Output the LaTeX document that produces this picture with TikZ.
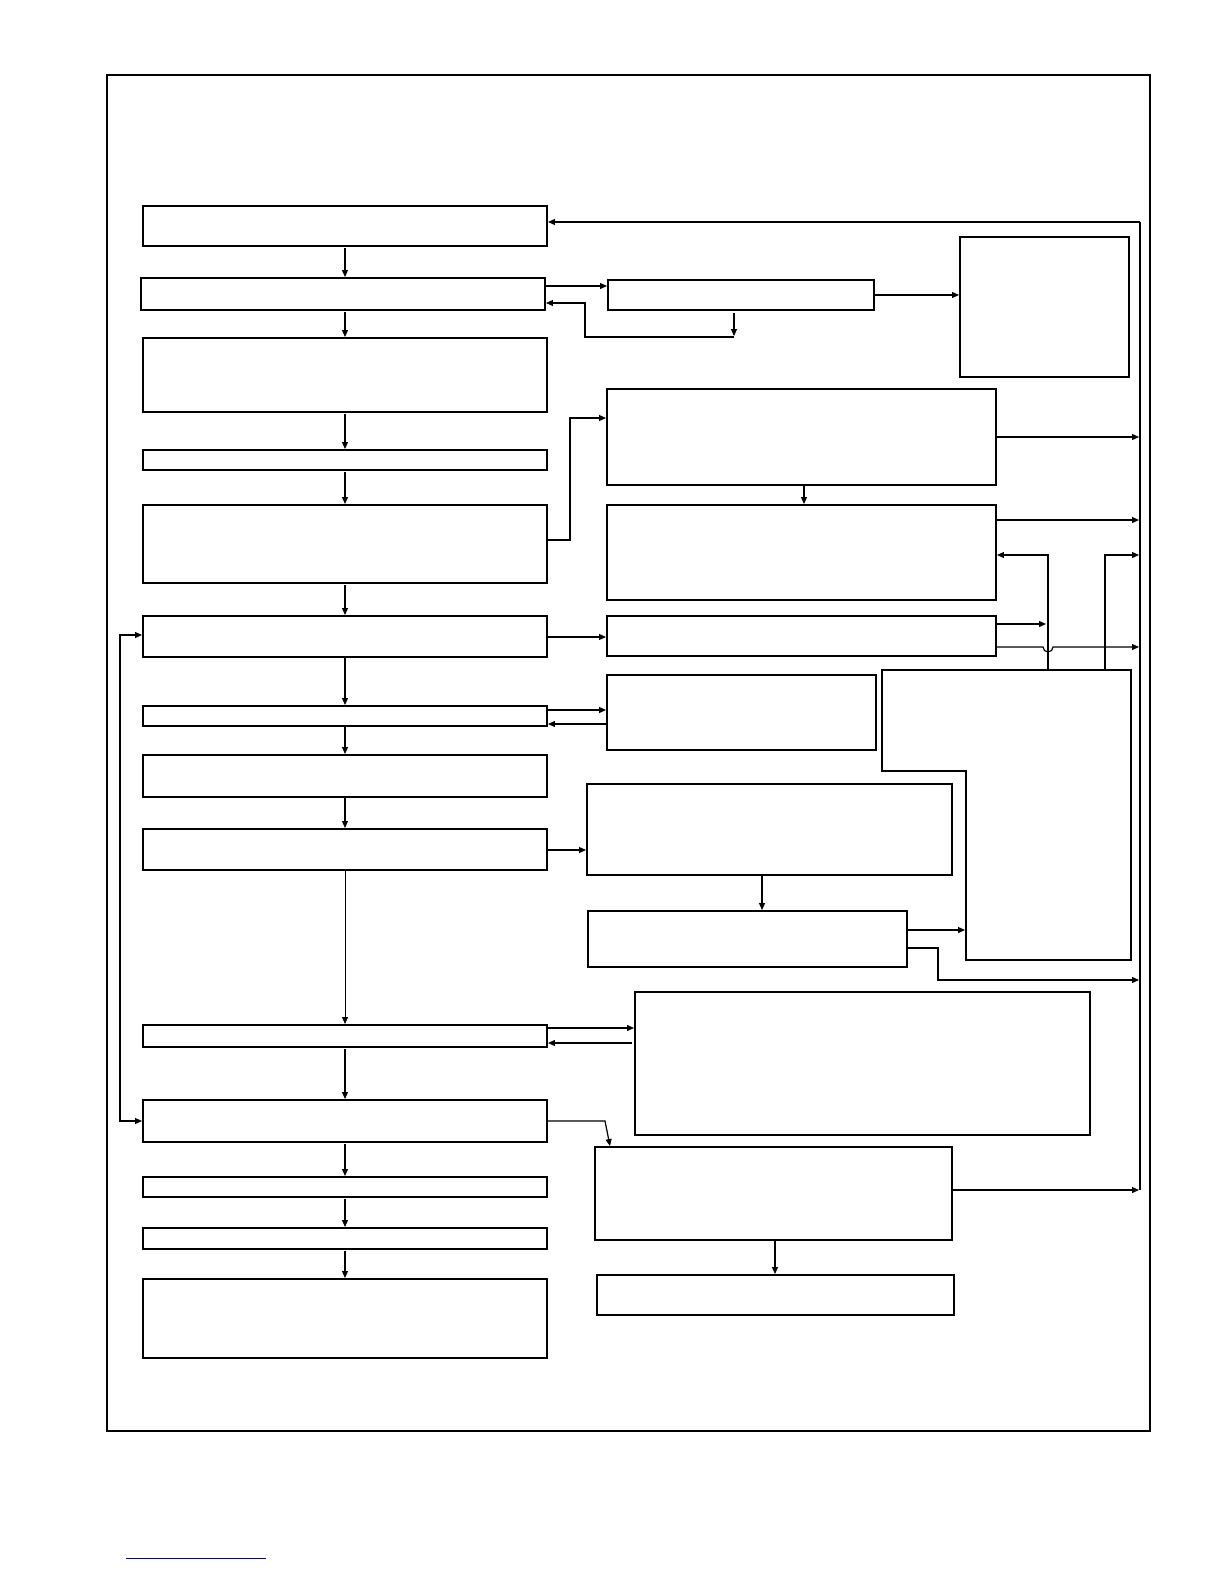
\documentclass[tikz,border=0pt]{standalone}
\usetikzlibrary{arrows.meta}
\begin{document}
\begin{tikzpicture}[x=0.5bp,y=-0.5bp,line width=0.6pt,>={Triangle[length=3.5pt,width=3pt]}]
  \tikzset{Box/.style={draw=black,line width=0.8pt}}
  \useasboundingbox (0,0) rectangle (1224,1584);
  \draw[line width=1pt] (107,75) rectangle (1150,1431);
  % boxes
  \foreach \n/\xa/\ya/\xb/\yb in {b1/143/206/547/246, b2/141/278/545/310, b3/143/338/547/412,
      b4/143/450/547/470, b5/143/505/547/583, b6/143/616/547/657, b7/143/706/547/726,
      b8/143/755/547/797, b9/143/829/547/870, b10/143/1025/547/1047, b11/143/1100/547/1142,
      b12/143/1177/547/1197, b13/143/1228/547/1249, b14/143/1279/547/1358,
      r1/608/280/874/310, r2/960/237/1129/377, r3/607/389/996/485, r4/607/505/996/600,
      r5/607/616/996/656, r6/607/675/876/750, r7/587/784/952/875, r8/588/911/907/967,
      r9/635/992/1090/1135, r10/595/1147/952/1240, r11/597/1275/954/1315}
    \draw[Box] (\xa,\ya) rectangle (\xb,\yb) coordinate (\n);
  \draw[Box] (882,670) -- (1131,670) -- (1131,960) -- (966,960) -- (966,771) -- (882,771) -- cycle;
  % main chain
  \foreach \ya/\yb in {248/277, 312/337, 414/449, 472/504, 585/615, 657/705, 727/754, 798/828,
      1049/1099, 1144/1176, 1199/1227, 1251/1278}
    \draw[->] (345,\ya) -- (345,\yb);
  \draw[->,thin] (345,870) -- (345,1024);
  % right bus
  \draw (1140,222) -- (1140,1190);
  \draw[->] (1140,222) -- (548,222);
  \draw[->] (996,437) -- (1139,437);
  \draw[->] (996,520) -- (1139,520);
  \draw[->] (1105,670) -- (1105,555) -- (1139,555);
  \draw[->] (1048,670) -- (1048,555) -- (997,555);
  \draw[->] (996,624) -- (1046,624);
  \draw[->] (996,647) -- (1043,647) arc (180:0:5) -- (1139,647);
  \draw[->] (907,948) -- (938,948) -- (938,980) -- (1139,980);
  \draw[->] (907,930) -- (965,930);
  \draw[->] (952,1190) -- (1139,1190);
  % side links
  \draw[->] (545,286) -- (607,286);
  \draw[->] (734,313) -- (734,336);
  \draw[->] (734,337) -- (585,337) -- (585,303) -- (546,303);
  \draw[->] (874,295) -- (959,295);
  \draw[->] (547,540) -- (570,540) -- (570,418) -- (606,418);
  \draw[->] (804,486) -- (804,504);
  \draw[->] (547,637) -- (606,637);
  \draw[->] (547,710) -- (606,710);
  \draw[->] (607,724) -- (548,724);
  \draw[->] (547,850) -- (586,850);
  \draw[->] (762,876) -- (762,910);
  \draw[->] (547,1028) -- (634,1028);
  \draw[->] (632,1043) -- (548,1043);
  \draw[->] (547,1121) -- (605,1121) -- (610,1146);
  \draw[->] (775,1241) -- (775,1274);
  \draw[<->] (142,1121) -- (120,1121) -- (120,635) -- (142,635);
  \draw[blue!60!black,thin] (126,1558) -- (266,1558);
\end{tikzpicture}
\end{document}
